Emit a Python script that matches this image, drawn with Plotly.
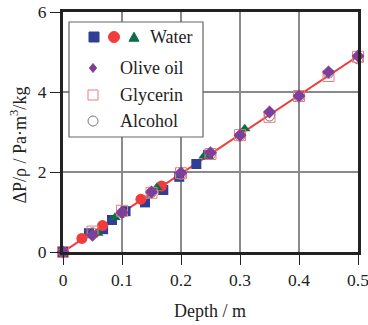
import plotly.graph_objects as go

# ---- data ----
water_sq_x = [0, 0.044, 0.068, 0.083, 0.106, 0.139, 0.17, 0.197, 0.226, 0.246]
water_sq_y = [0, 0.47, 0.57, 0.8, 1.02, 1.24, 1.55, 1.88, 2.2, 2.43]
water_ci_x = [0, 0.032, 0.067, 0.132, 0.167]
water_ci_y = [0, 0.34, 0.66, 1.32, 1.65]
water_tr_x = [0, 0.059, 0.088, 0.159, 0.239, 0.308]
water_tr_y = [0, 0.47, 0.86, 1.61, 2.4, 3.08]
depth = [0, 0.05, 0.1, 0.15, 0.2, 0.25, 0.3, 0.35, 0.4, 0.45, 0.5]
olive_y = [0, 0.42, 0.99, 1.5, 1.98, 2.48, 2.92, 3.5, 3.9, 4.5, 4.9]
glycerin_y = [0, 0.51, 1.03, 1.48, 1.97, 2.45, 2.92, 3.38, 3.9, 4.4, 4.88]
alcohol_y = [0, 0.48, 0.98, 1.49, 1.94, 2.44, 2.9, 3.4, 3.88, 4.47, 4.83]
fit_x = [0, 0.5]
fit_y = [0, 4.9]
x_ticks = [0, 0.1, 0.2, 0.3, 0.4, 0.5]
x_ticklabels = ["0", "0.1", "0.2", "0.3", "0.4", "0.5"]
y_ticks = [0, 2, 4, 6]

BLUE = "#2e3f96"
RED = "#f03c3c"
GREEN = "#0b6e48"
PURPLE = "#7e3f9a"
SALMON = "#f07a7a"
GRAY = "#7a7a7a"
FONT = "Liberation Serif"

fig = go.Figure()
fig.add_trace(go.Scatter(x=fit_x, y=fit_y, mode="lines",
                         line=dict(color=RED, width=2), cliponaxis=False))
fig.add_trace(go.Scatter(x=water_sq_x, y=water_sq_y, mode="markers", cliponaxis=False,
                         marker=dict(symbol="square", size=10, color=BLUE)))
fig.add_trace(go.Scatter(x=water_ci_x, y=water_ci_y, mode="markers", cliponaxis=False,
                         marker=dict(symbol="circle", size=11, color=RED)))
fig.add_trace(go.Scatter(x=water_tr_x, y=water_tr_y, mode="markers", cliponaxis=False,
                         marker=dict(symbol="triangle-up", size=10, color=GREEN)))
fig.add_trace(go.Scatter(x=depth, y=alcohol_y, mode="markers", cliponaxis=False,
                         marker=dict(symbol="circle-open", size=10, color=GRAY, line=dict(width=1))))
fig.add_trace(go.Scatter(x=depth, y=glycerin_y, mode="markers", cliponaxis=False,
                         marker=dict(symbol="square-open", size=11, color=SALMON, line=dict(width=1))))
fig.add_trace(go.Scatter(x=depth, y=olive_y, mode="markers", cliponaxis=False,
                         marker=dict(symbol="diamond", size=10, color=PURPLE)))

W, H = 368, 325
# plot area in screenshot pixels: x 63..358, y 12..252
L, T = 63, 12
R = W - 358
B = H - 252
pw, ph = W - L - R, H - T - B

def px2paper(px, py):
    return (px - L) / pw, (H - B - py) / ph

shapes = []
ax0, ay1 = px2paper(69, 22)
ax1, ay0 = px2paper(203, 137)
shapes.append(dict(type="rect", xref="paper", yref="paper", x0=ax0, x1=ax1, y0=ay0, y1=ay1,
                   line=dict(color="#666", width=1.2), fillcolor="white", layer="above"))

def icon(kind, px, py, color, filled=True, s=10):
    xa, ya = px2paper(px, py)
    h = s / 2
    base = dict(xref="paper", yref="paper", xsizemode="pixel", ysizemode="pixel",
                xanchor=xa, yanchor=ya, layer="above",
                line=dict(color=color, width=1),
                fillcolor=color if filled else "rgba(0,0,0,0)")
    if kind in ("rect", "circle"):
        base.update(type=kind, x0=-h, x1=h, y0=-h, y1=h)
    elif kind == "tri":
        base.update(type="path", path=f"M {-h} {-h*0.85} L {h} {-h*0.85} L 0 {h*0.95} Z")
    elif kind == "dia":
        base.update(type="path", path=f"M 0 {-h} L {h*0.8} 0 L 0 {h} L {-h*0.8} 0 Z")
    shapes.append(base)

icon("rect", 94, 37, BLUE)
icon("circle", 114, 37, RED, s=11)
icon("tri", 134, 37, GREEN)
icon("dia", 93, 68, PURPLE, s=9)
icon("rect", 93, 95, SALMON, filled=False)
icon("circle", 93, 121, GRAY, filled=False)

annotations = []
for txt, px, py in [("Water", 148, 37), ("Olive oil", 118, 68), ("Glycerin", 118, 95), ("Alcohol", 118, 121)]:
    xa, ya = px2paper(px, py)
    annotations.append(dict(text=txt, x=xa, y=ya, xref="paper", yref="paper",
                            xanchor="left", yanchor="middle", showarrow=False,
                            font=dict(family=FONT, size=18, color="#222")))
ylx, yly = px2paper(18.5, 145)
annotations.append(dict(text="ΔP/ρ / Pa·m<sup>3</sup>/kg", x=ylx, y=yly, xref="paper", yref="paper",
                        xanchor="center", yanchor="middle", textangle=-90, showarrow=False,
                        font=dict(family=FONT, size=18, color="#222")))
dlx, dly = px2paper(210, 311)
annotations.append(dict(text="Depth / m", x=dlx, y=dly, xref="paper", yref="paper",
                        xanchor="center", yanchor="middle", showarrow=False,
                        font=dict(family=FONT, size=18, color="#222")))

fig.update_layout(
    width=W, height=H, margin=dict(l=L, r=R, t=T, b=B, autoexpand=False),
    paper_bgcolor="white", plot_bgcolor="white", showlegend=False,
    font=dict(family=FONT, size=17.5, color="#222"),
    shapes=shapes, annotations=annotations,
)
fig.update_xaxes(range=[0, 0.5], tickvals=x_ticks, ticktext=x_ticklabels, automargin=False,
                 ticklabeloverflow="allow",
                 ticks="outside", ticklen=10, tickwidth=1, tickcolor="#222",
                 showline=True, linewidth=3, linecolor="#222", mirror=True,
                 showgrid=True, gridcolor="#8a8a8a", gridwidth=1.5, zeroline=False)
fig.update_yaxes(range=[0, 6], tickvals=y_ticks, automargin=False,
                 ticklabeloverflow="allow",
                 ticks="outside", ticklen=10, tickwidth=1, tickcolor="#222",
                 showline=True, linewidth=3, linecolor="#222", mirror=True,
                 showgrid=True, gridcolor="#8a8a8a", gridwidth=1.5, zeroline=False)

fig.write_html("out.html", config={"displayModeBar": False},
               post_script="document.body.style.margin='0';")
